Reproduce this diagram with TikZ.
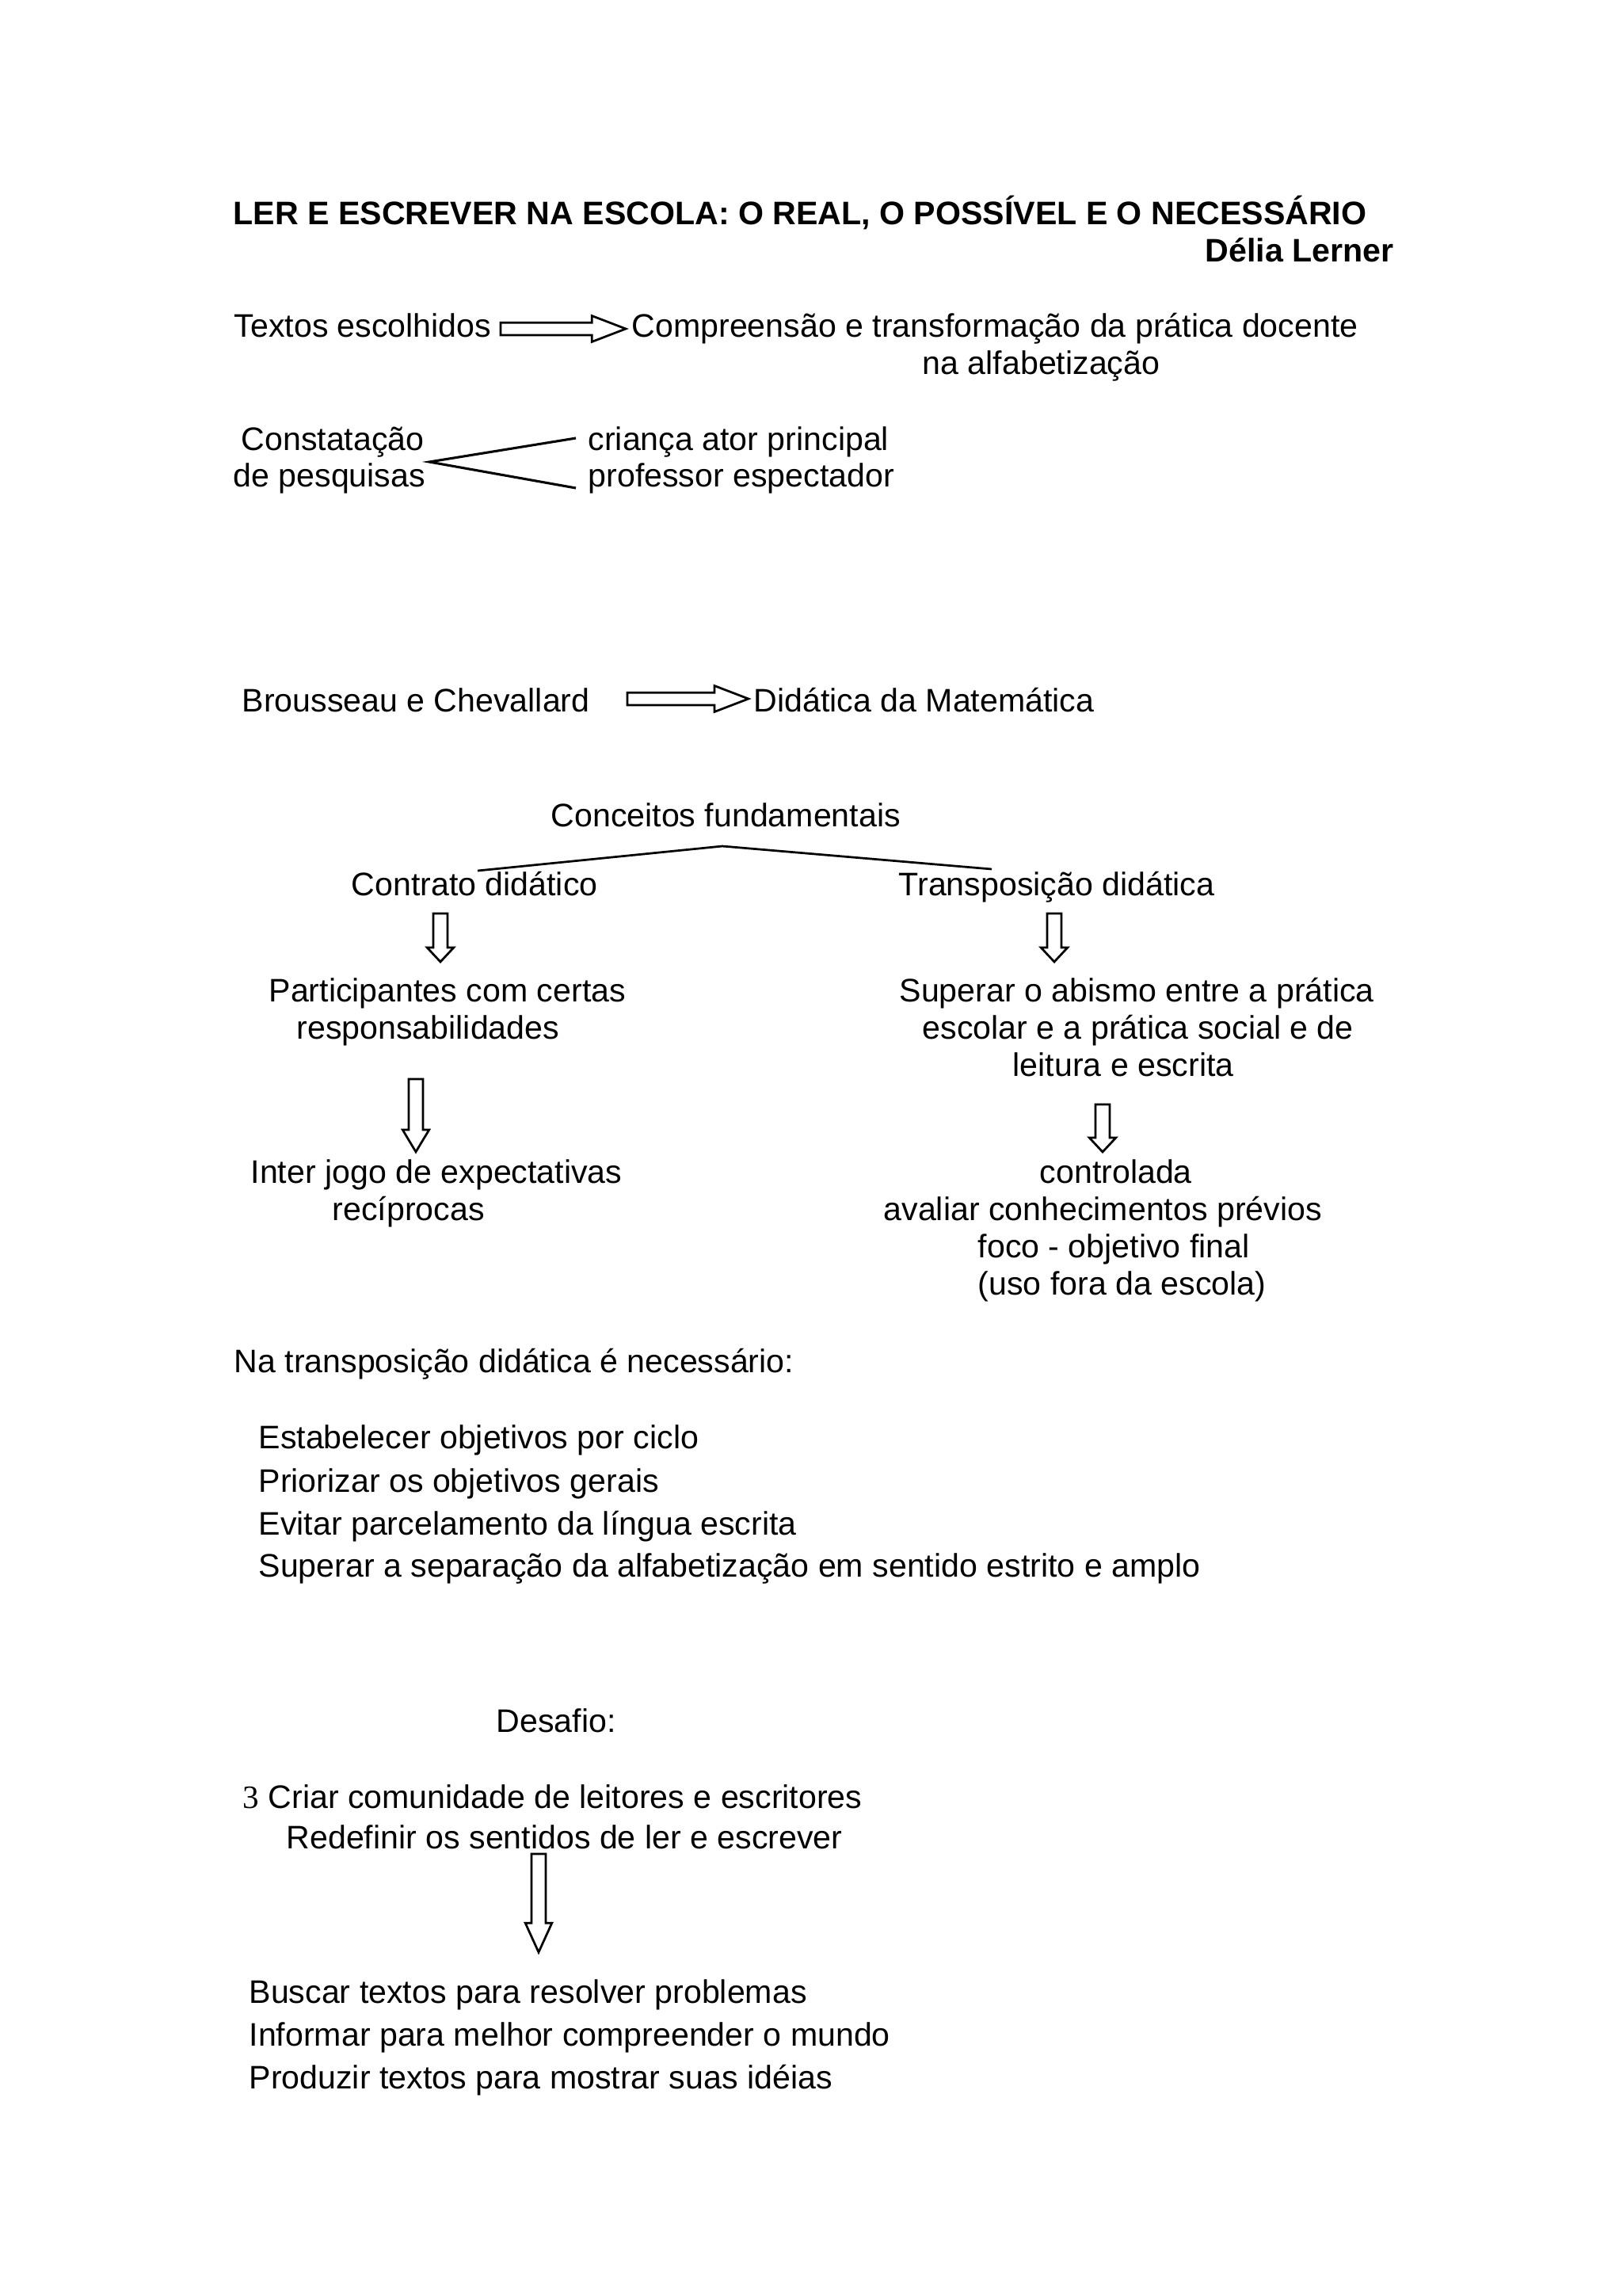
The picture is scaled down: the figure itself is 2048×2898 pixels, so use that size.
\documentclass[tikz,border=0pt]{standalone}
\usepackage{fontspec}
\setmainfont[Ligatures=CommonOff]{Liberation Sans}
\newfontfamily\seriffont{Liberation Serif}
\usetikzlibrary{shapes.arrows}

\begin{document}
\begin{tikzpicture}[x=0.0102539cm, y=-0.0102539cm,
    every node/.style={font=\fontsize{12}{13.8}\selectfont},
    texto/.style={anchor=base west, inner sep=0pt},
    seta/.style={single arrow, draw, line width=0.8pt, outer sep=0pt, anchor=tail},
    setah/.style={seta, inner sep=1.9pt, single arrow head extend=2.5pt, single arrow tip angle=42},
    setav/.style={seta, shape border rotate=270, inner sep=2.2pt, single arrow head extend=2.3pt}]
  \useasboundingbox (0,0) rectangle (2048,2898);

  % Title
  \node[texto, font=\fontsize{12}{13.8}\selectfont\bfseries] (titulo) at (294,283) {LER E ESCREVER NA ESCOLA: O REAL, O POSSÍVEL E O NECESSÁRIO};
  \node[anchor=base east, inner sep=0pt, font=\fontsize{12}{13.8}\selectfont\bfseries] (autora) at (1760,330) {Délia Lerner};

  % Textos escolhidos
  \node[texto] (textos) at (295,425) {Textos escolhidos};
  \node[texto] (compreensao) at (797,425) {Compreensão e transformação da prática docente};
  \node[texto] (alfabetizacao) at (1164,472) {na alfabetização};
  \node[setah, minimum height=46.1pt] (setaTextos) at (632,415) {};

  % Constatacao
  \node[texto] (constatacao) at (304,568) {Constatação};
  \node[texto] (pesquisas) at (294,614) {de pesquisas};
  \node[texto] (crianca) at (742,568) {criança ator principal};
  \node[texto] (professor) at (742,614) {professor espectador};
  \coordinate (forkV) at (542,583);
  \coordinate (forkA) at (727,553);
  \coordinate (forkB) at (727,616);
  \draw[line width=0.9pt] (forkA) -- (forkV) -- (forkB);

  % Brousseau e Chevallard
  \node[texto] (brousseau) at (305,898) {Brousseau e Chevallard};
  \node[texto] (didatica) at (951,898) {Didática da Matemática};
  \node[setah, minimum height=44.6pt] (setaDidatica) at (792,882) {};

  % Conceitos fundamentais
  \node[texto] (conceitos) at (695,1043) {Conceitos fundamentais};
  \node[texto] (contrato) at (443,1130) {Contrato didático};
  \node[texto] (transposicao) at (1134,1130) {Transposição didática};
  \coordinate (topo) at (912,1068);
  \coordinate (ramoE) at (603,1099);
  \coordinate (ramoD) at (1252,1097);
  \draw[line width=0.8pt] (ramoE) -- (topo) -- (ramoD);

  % Contrato didatico
  \node[setav, minimum height=17.8pt, single arrow tip angle=86] (setaC1) at (556,1153) {};
  \node[texto] (participantes) at (339,1264) {Participantes com certas};
  \node[texto] (responsab) at (374,1311) {responsabilidades};
  \node[setav, minimum height=26.8pt, single arrow tip angle=62] (setaC2) at (525,1362) {};
  \node[texto] (interjogo) at (316,1493) {Inter jogo de expectativas};
  \node[texto] (reciprocas) at (419,1540) {recíprocas};

  % Transposicao didatica
  \node[setav, minimum height=17.8pt, single arrow tip angle=86] (setaT1) at (1331,1153) {};
  \node[texto] (superar) at (1135,1264) {Superar o abismo entre a prática};
  \node[texto] (escolar) at (1164,1311) {escolar e a prática social e de};
  \node[texto] (leitura) at (1278,1358) {leitura e escrita};
  \node[setav, minimum height=17.5pt, single arrow tip angle=86] (setaT2) at (1392,1394) {};
  \node[texto] (controlada) at (1312,1493) {controlada};
  \node[texto] (avaliar) at (1115,1540) {avaliar conhecimentos prévios};
  \node[texto] (foco) at (1234,1587) {foco - objetivo final};
  \node[texto] (uso) at (1234,1634) {(uso fora da escola)};

  % Na transposicao
  \node[texto] (natransp) at (295,1732) {Na transposição didática é necessário:};
  \node[texto] (estabelecer) at (326,1828) {Estabelecer objetivos por ciclo};
  \node[texto] (priorizar) at (326,1883) {Priorizar os objetivos gerais};
  \node[texto] (evitar) at (326,1937) {Evitar parcelamento da língua escrita};
  \node[texto] (separacao) at (326,1990) {Superar a separação da alfabetização em sentido estrito e amplo};

  % Desafio
  \node[texto] (desafio) at (626,2186) {Desafio:};
  \node[texto] (criar) at (306,2282) {{\seriffont 3} Criar comunidade de leitores e escritores};
  \node[texto] (redefinir) at (361,2333) {Redefinir os sentidos de ler e escrever};
  \node[setav, minimum height=36.2pt, single arrow tip angle=49] (setaDesafio) at (680,2340) {};
  \node[texto] (buscar) at (314,2528) {Buscar textos para resolver problemas};
  \node[texto] (informar) at (314,2582) {Informar para melhor compreender o mundo};
  \node[texto] (produzir) at (314,2636) {Produzir textos para mostrar suas idéias};
\end{tikzpicture}
\end{document}
